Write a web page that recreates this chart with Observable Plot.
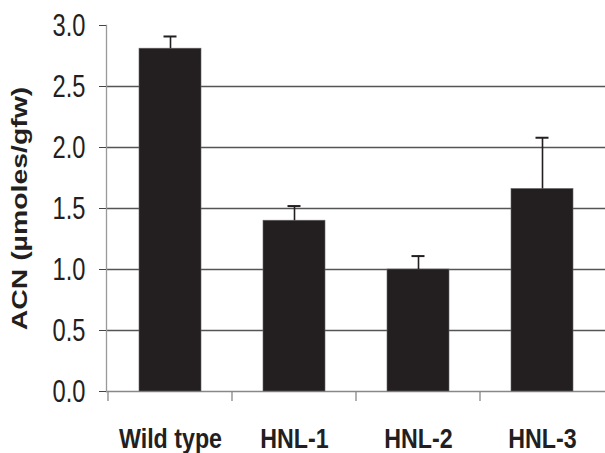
<!DOCTYPE html>
<html><head><meta charset="utf-8">
<script src="https://cdn.jsdelivr.net/npm/d3@7"></script>
<script src="https://cdn.jsdelivr.net/npm/@observablehq/plot@0.6"></script>
<style>
body{margin:0;background:#fff}
</style>
</head><body><div id="chart"></div>
<script>
const categories = ["Wild type", "HNL-1", "HNL-2", "HNL-3"];
const values = [2.81, 1.40, 1.00, 1.66];
const errors = [0.10, 0.12, 0.11, 0.42];
const yTicks = [0, 0.5, 1.0, 1.5, 2.0, 2.5, 3.0];
const gridTicks = [0.5, 1.0, 1.5, 2.0, 2.5];

const data = categories.map((c, i) => ({cat: c, value: values[i], top: values[i] + errors[i]}));

const ink = "#231f20";
const sans = "'Liberation Sans', Arial, Helvetica, sans-serif";
const chart = Plot.plot({
  width: 605, height: 453,
  marginLeft: 106, marginRight: 0, marginTop: 25, marginBottom: 62,
  style: {fontFamily: sans, background: "#fff", color: ink},
  x: {domain: categories, paddingInner: 0.5, paddingOuter: 0.25, label: null},
  y: {domain: [0, 3]},
  marks: [
    Plot.gridY(gridTicks, {stroke: "#555", strokeOpacity: 1, strokeWidth: 1.3}),
    Plot.ruleY([0], {stroke: "#888", strokeWidth: 1.3}),
    Plot.frame({anchor: "left", stroke: "#999", strokeWidth: 1.3}),
    Plot.barY(data, {x: "cat", y: "value", fill: ink, stroke: "#666", strokeWidth: 0.6}),
    Plot.ruleX(data, {x: "cat", y1: "value", y2: "top", stroke: ink, strokeWidth: 1.6}),
    Plot.tickY(data, {x: "cat", y: "top", stroke: ink, strokeWidth: 2, insetLeft: 24.5, insetRight: 24.5}),
    Plot.axisY({ticks: yTicks, tickFormat: d3.format(".1f"), tickSize: 7, tickPadding: 14, fontSize: 32, fontFamily: sans, stroke: "#444",
      label: "ACN (µmoles/gfw)", labelAnchor: "center", labelArrow: "none", labelOffset: 95}),
    Plot.axisX({tickSize: 10, tickFormat: () => "", dx: -62.5, stroke: "#888", strokeWidth: 1.3, label: null}),
    Plot.axisX({tickSize: 0, tickPadding: 37, fontSize: 28, fontWeight: "bold", fontFamily: sans, label: null})
  ]
});
document.getElementById("chart").append(chart);

// horizontally condensed lettering, as in the (stretched) original figure
const svg = d3.select(chart);
function fit(sel, factor) {
  sel.each(function () {
    const w = this.getComputedTextLength();
    if (w > 0) {
      this.setAttribute("textLength", w * factor);
      this.setAttribute("lengthAdjust", "spacingAndGlyphs");
    }
  });
}
const yLab = svg.selectAll('g[aria-label="y-axis label"] text')
  .style("font-family", sans).style("font-weight", "bold").style("font-size", "22px");
fit(yLab, 1.29);
fit(svg.selectAll('g[aria-label="y-axis tick label"] text'), 0.74);
fit(svg.selectAll('g[aria-label="x-axis tick label"] text'), 0.83);
</script>
</body></html>
